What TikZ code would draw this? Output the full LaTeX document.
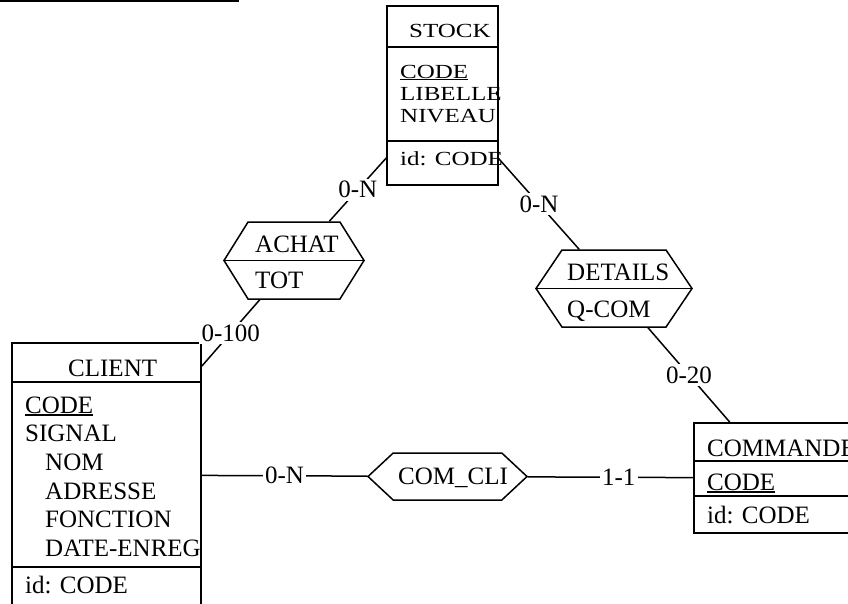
\documentclass[tikz,border=0pt]{standalone}
\usepackage{fontspec}
\setmainfont{Liberation Serif}
\usetikzlibrary{shapes.symbols}
% primary key: thick underline
\newcommand{\pk}[1]{\setbox0=\hbox{#1}\rlap{\rule[-3pt]{\wd0}{1.8pt}}\box0}
% flattened text (STOCK box is drawn lower in the source)
\newcommand{\squashed}[1]{\scalebox{1}[0.8]{#1}}

\begin{document}
\begin{tikzpicture}[
    x=1pt, y=-1pt,
    every node/.style={font=\fontsize{25}{29}\selectfont},
    link/.style={line width=1.5pt},
    entity/.style={draw, line width=1.5pt, rectangle, inner sep=0pt},
    rel/.style={draw, line width=1.5pt, signal, signal to=east and west, inner sep=0pt},
    attr/.style={anchor=base west, inner sep=0pt},
    card/.style={fill=white, inner sep=2.5pt}
]
\useasboundingbox (0,0) rectangle (848,603);
\clip (0,0) rectangle (848,603);

% title rule (cut off)
\draw[line width=2.5pt] (0,1) -- (239,1);

% Entities
\node[entity, minimum width=111pt, minimum height=179pt] (stock) at (442.5,95.5) {};
\node[entity, minimum width=189pt, minimum height=264pt] (client) at (106.5,475) {};
\node[entity, minimum width=168pt, minimum height=110pt] (commande) at (778,478) {};

\draw[link] (stock.west |- 0,47) -- (stock.east |- 0,47);
\draw[link] (stock.west |- 0,141) -- (stock.east |- 0,141);
\draw[link] (client.west |- 0,382) -- (client.east |- 0,382);
\draw[link] (client.west |- 0,567) -- (client.east |- 0,567);
\draw[link] (commande.west |- 0,461) -- (commande.east |- 0,461);
\draw[link] (commande.west |- 0,496) -- (commande.east |- 0,496);

% Relationships
\node[rel, minimum width=140pt, minimum height=77pt, signal pointer angle=116] (achat) at (294,260.5) {};
\node[rel, minimum width=156pt, minimum height=77pt, signal pointer angle=112] (details) at (614,288.5) {};
\node[rel, minimum width=159pt, minimum height=47pt, signal pointer angle=86] (comcli) at (447.5,476.5) {};

\draw[link] (achat.west) -- (achat.east);
\draw[link] (details.west) -- (details.east);

% Roles
\draw[link] (stock) -- node[card] {0-N} (achat);
\draw[link] (stock) -- node[card] {0-N} (details);
\draw[link] (achat) -- node[card] {0-100} (client);
\draw[link] (details) -- node[card] {0-20} (commande);
\draw[link] (client) -- node[card] {0-N} (comcli);
\draw[link] (comcli) -- node[card, pos=0.55] {1-1} (commande);

% STOCK
\node[attr] (stockname) at (409,37) {\squashed{STOCK}};
\node[attr] (stockcode) at (400,78) {\squashed{\pk{CODE}}};
\node[attr] (stocklib) at (400,100) {\squashed{LIBELLE}};
\node[attr] (stockniv) at (400,122) {\squashed{NIVEAU}};
\node[attr] (stockid) at (400,165) {\squashed{id: CODE}};

% CLIENT
\node[attr] (clientname) at (68,376) {CLIENT};
\node[attr] (clientcode) at (25,413) {\pk{CODE}};
\node[attr] (clientsig) at (25,441) {SIGNAL};
\node[attr] (clientnom) at (45,470) {NOM};
\node[attr] (clientadr) at (45,499) {ADRESSE};
\node[attr] (clientfct) at (45,527) {FONCTION};
\node[attr] (clientdate) at (45,556) {DATE-ENREG};
\node[attr] (clientid) at (25,593) {id: CODE};

% COMMANDE
\node[attr] (cmdname) at (707,456) {COMMANDE};
\node[attr] (cmdcode) at (707,490) {\pk{CODE}};
\node[attr] (cmdid) at (707,523) {id: CODE};

% relationship texts
\node[attr] (achatname) at (255,252) {ACHAT};
\node[attr] (achattot) at (255,288) {TOT};
\node[attr] (detname) at (567,280) {DETAILS};
\node[attr] (detqcom) at (567,317) {Q-COM};
\node[attr] (comcliname) at (398,484) {COM\_CLI};
\end{tikzpicture}
\end{document}
